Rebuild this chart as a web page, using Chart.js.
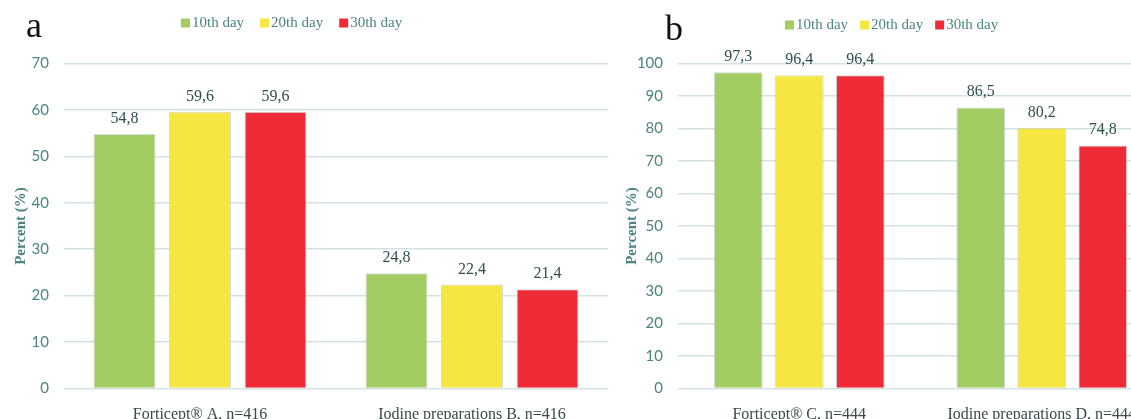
<!DOCTYPE html>
<html>
<head>
<meta charset="utf-8">
<script src="https://cdn.jsdelivr.net/npm/chart.js@4.4.1/dist/chart.umd.min.js"></script>
<style>
  html, body { margin: 0; padding: 0; background: #fff; overflow: hidden; }
  body { width: 1131px; height: 419px; position: relative; }
  canvas { position: absolute; top: 0; }
  #chartA { left: 0; }
  #chartB { left: 620px; }
</style>
</head>
<body>
<canvas id="chartA" width="620" height="419"></canvas>
<canvas id="chartB" width="550" height="419"></canvas>
<script>
// data
const days = ['10th day', '20th day', '30th day'];
const dayColors = ['#a3cd62', '#f5e642', '#ee2b36'];

const catsA = ['Forticept® A, n=416', 'Iodine preparations B, n=416'];
const day10A = [54.8, 24.8];
const day20A = [59.6, 22.4];
const day30A = [59.6, 21.4];
const yMaxA = 70;

const catsB = ['Forticept® C, n=444', 'Iodine preparations D, n=444'];
const day10B = [97.3, 86.5];
const day20B = [96.4, 80.2];
const day30B = [96.4, 74.8];
const yMaxB = 100;

const tickColor = '#4a8583';
const gridColor = '#d3e2e2';

Chart.defaults.font.family = "'Liberation Serif', serif";

// data labels, legend and panel letter
const extras = {
  id: 'extras',
  afterDatasetsDraw(chart, args, opts) {
    const ctx = chart.ctx;
    ctx.save();
    // value labels
    ctx.font = "16px 'Liberation Serif'";
    ctx.fillStyle = '#2e4f4f';
    ctx.textAlign = 'center';
    ctx.textBaseline = 'alphabetic';
    chart.data.datasets.forEach((ds, i) => {
      chart.getDatasetMeta(i).data.forEach((bar, j) => {
        ctx.fillText(ds.data[j].toFixed(1).replace('.', ','), bar.x, bar.y - 11);
      });
    });
    // legend
    ctx.font = "15px 'Liberation Serif'";
    ctx.textAlign = 'left';
    ctx.textBaseline = 'middle';
    let x = opts.legendX;
    chart.data.datasets.forEach(ds => {
      ctx.fillStyle = ds.backgroundColor;
      ctx.fillRect(x, opts.legendY - 4.5, 9, 9);
      ctx.fillStyle = tickColor;
      ctx.fillText(ds.label, x + 11, opts.legendY);
      x += 11 + ctx.measureText(ds.label).width + opts.legendGap;
    });
    // panel letter
    ctx.font = "36px 'Liberation Serif'";
    ctx.fillStyle = '#111';
    ctx.textBaseline = 'alphabetic';
    ctx.fillText(opts.letter, opts.letterX, opts.letterY);
    ctx.restore();
  }
};

function makeChart(id, cats, series, yMax, o) {
  return new Chart(document.getElementById(id), {
    type: 'bar',
    data: {
      labels: cats,
      datasets: series.map((vals, i) => ({
        label: days[i],
        data: vals,
        backgroundColor: dayColors[i],
        borderColor: 'rgba(170,195,195,0.6)',
        borderWidth: 1,
        categoryPercentage: o.catPct,
        barPercentage: o.barPct,
      })),
    },
    options: {
      responsive: false,
      animation: false,
      layout: { padding: { top: 63.5, right: o.padRight, bottom: 0, left: 0 } },
      plugins: {
        legend: { display: false },
        tooltip: { enabled: false },
        extras: o,
      },
      scales: {
        x: {
          grid: { display: false },
          border: { display: false },
          ticks: { color: '#3a4a4a', font: { size: 16 }, padding: 9 },
          afterFit: s => { s.height = 30.5; },
        },
        y: {
          min: 0,
          max: yMax,
          ticks: { stepSize: 10, color: tickColor, padding: 15, font: { family: 'Lato', size: 15 } },
          grid: { color: gridColor, lineWidth: 1.5, drawTicks: false },
          border: { display: false },
          title: {
            display: true,
            text: 'Percent (%)',
            color: tickColor,
            font: { size: 15, weight: 'bold' },
            padding: { top: o.titlePad, bottom: 0 },
          },
          afterFit: s => { s.width = o.axisWidth; },
        },
      },
    },
    plugins: [extras],
  });
}

makeChart('chartA', catsA, [day10A, day20A, day30A], yMaxA, {
  catPct: 0.833, barPct: 0.82, padRight: 12, axisWidth: 64, titlePad: 12,
  legendX: 181, legendY: 23, legendGap: 16, letter: 'a', letterX: 26, letterY: 37,
});

makeChart('chartB', catsB, [day10B, day20B, day30B], yMaxB, {
  catPct: 0.755, barPct: 0.80, padRight: 7, axisWidth: 58, titlePad: 3,
  legendX: 165, legendY: 25, legendGap: 12, letter: 'b', letterX: 45, letterY: 40,
});
</script>
</body>
</html>
